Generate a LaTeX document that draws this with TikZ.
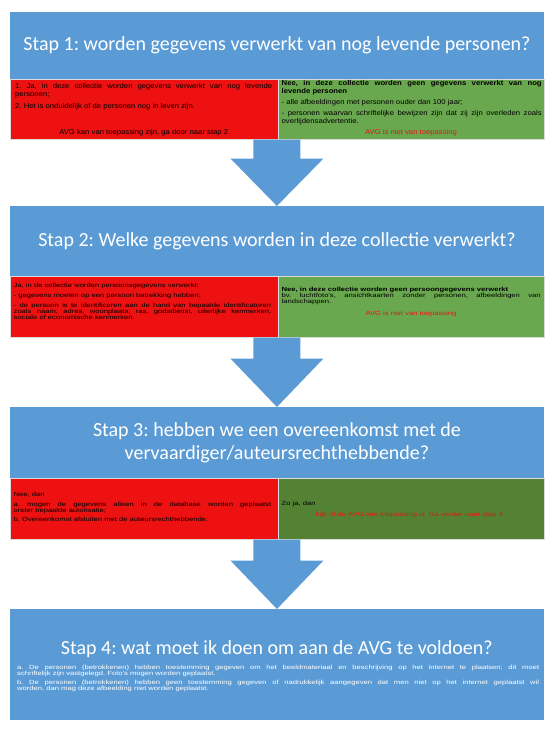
\documentclass[tikz,border=0pt]{standalone}
\usepackage{fontspec}
\setmainfont{Liberation Sans}
\newfontfamily\headfont{Carlito}
\newfontfamily\bodyA[FakeStretch=1.1]{Liberation Sans}
\newfontfamily\bodyB[FakeStretch=1.27]{Liberation Sans}
\usetikzlibrary{calc}
\definecolor{stepblue}{HTML}{5B9BD5}
\definecolor{boxred}{HTML}{EE1111}
\definecolor{boxgreen}{HTML}{6AA84F}
\definecolor{darkgreen}{HTML}{548235}
\definecolor{avgred}{HTML}{E3170F}
\definecolor{edgegray}{HTML}{DADADA}
\frenchspacing
\begin{document}
\begin{tikzpicture}[x=1pt,y=-1pt,
  stepbox/.style={rectangle, fill=stepblue, inner sep=0pt, anchor=north west,
    minimum width=534.5pt, text=white, font=\headfont\fontsize{20}{23}\selectfont, align=center},
  cellbox/.style={rectangle, draw=edgegray, line width=0.5pt, inner sep=0pt, anchor=north west, minimum height=60pt},
  redcell/.style={cellbox, fill=boxred, minimum width=268.5pt},
  greencell/.style={cellbox, fill=boxgreen, minimum width=266pt},
  darkcell/.style={cellbox, fill=darkgreen, minimum width=266pt},
  nohyph/.style={execute at begin node={\frenchspacing\hyphenpenalty=10000\exhyphenpenalty=10000}},
  textA/.style={inner sep=0pt, anchor=north west, align=justify, nohyph,
    font=\bodyA\fontsize{7}{7.4}\selectfont},
  textB/.style={inner sep=0pt, anchor=north west, align=justify, nohyph,
    font=\bodyB\fontsize{6}{5.8}\selectfont},
  verdictA/.style={inner sep=0pt, anchor=base, font=\bodyA\fontsize{7}{7.4}\selectfont},
  verdictB/.style={inner sep=0pt, anchor=base, font=\bodyB\fontsize{6}{5.8}\selectfont},
  arrowblue/.style={fill=stepblue}
]
\useasboundingbox (0,0) rectangle (555,747);

% Step 1
\node[stepbox, minimum height=67pt] (b1) at (9.5,12) {Stap 1: worden gegevens verwerkt van nog levende personen?};
\node[redcell] (r1) at (9.5,79) {};
\node[greencell] (g1) at (278,79) {};
\node[textA, text width=257pt] (t1) at (15,83.6) {1. Ja, in deze collectie worden gegevens verwerkt van nog levende\linebreak personen;\par\vspace{4.8pt}2. Het is onduidelijk of de personen nog in leven zijn.};
\node[verdictA] (v1) at (143.75,134) {AVG kan van toepassing zijn, ga door naar stap 2};
\node[textA, text width=260pt] (t2) at (281.5,80.5) {\bfseries Nee, in deze collectie worden geen gegevens verwerkt van nog\linebreak levende personen\par\vspace{4pt}\mdseries - alle afbeeldingen met personen ouder dan 100 jaar;\par\vspace{4pt}- personen waarvan schriftelijke bewijzen zijn dat zij zijn overleden zoals\linebreak overlijdensadvertentie.};
\node[verdictA, text=avgred] (v2) at (411,134.2) {AVG is niet van toepassing};

% Step 2
\node[stepbox, minimum height=70pt] (b2) at (9.5,206) {Stap 2: Welke gegevens worden in deze collectie verwerkt?};
\node[redcell, minimum height=61pt] (r2) at (9.5,276) {};
\node[greencell, minimum height=61pt] (g2) at (278,276) {};
\node[textB, text width=257.5pt] (t3) at (13.5,283.3) {Ja, in de collectie worden persoonsgegevens verwerkt:\par\vspace{3.5pt}- gegevens moeten op een persoon betrekking hebben;\par\vspace{4.5pt}- de persoon is te identificeren aan de hand van bepaalde identificatoren\linebreak zoals naam, adres, woonplaats, ras, godsdienst, uiterlijke kenmerken,\linebreak sociale of economische kenmerken.};
\node[textB, text width=259pt] (t4) at (281.5,286.6) {\bfseries Nee, in deze collectie worden geen persoongegevens verwerkt\par\vspace{0.8pt}\mdseries bv. luchtfoto's, ansichtkaarten zonder personen, afbeeldingen van\linebreak landschappen.};
\node[verdictB, text=avgred] (v3) at (411,315) {AVG is niet van toepassing};

% Step 3
\node[stepbox, minimum height=71pt] (b3) at (9.5,407) {Stap 3: hebben we een overeenkomst met de\\vervaardiger/auteursrechthebbende?};
\node[redcell, minimum height=61pt] (r3) at (9.5,478) {};
\node[darkcell, minimum height=61pt] (g3) at (278,478) {};
\node[textB, text width=257.5pt] (t5) at (13.5,491.6) {Nee, dan\par\vspace{4.5pt}a. mogen de gegevens alleen in de database worden geplaatst\linebreak onder bepaalde autorisatie;\par\vspace{3.2pt}b. Overeenkomst afsluiten met de auteursrechthebbende.};
\node[inner sep=0pt, anchor=base west, font=\bodyB\fontsize{6}{5.8}\selectfont] (t6) at (281.5,505.5) {Zo ja, dan};
\node[verdictB, text=avgred] (v4) at (409.5,516.3) {kijk of de AVG van toepassing is. Ga verder naar stap 4};

% Step 4
\node[stepbox, minimum height=111pt] (b4) at (9.5,609) {};
\node[inner sep=0pt, text=white, font=\headfont\fontsize{20}{23}\selectfont] (h4) at (276.75,649) {Stap 4: wat moet ik doen om aan de AVG te voldoen?};
\node[textB, text=white, text width=522pt, font=\bodyB\fontsize{6}{6.1}\selectfont] (t7) at (17,665) {a. De personen (betrokkenen) hebben toestemming gegeven om het beeldmateriaal en beschrijving op het internet te plaatsen; dit moet\linebreak schriftelijk zijn vastgelegd. Foto's mogen worden geplaatst.\par\vspace{3pt}b. De personen (betrokkenen) hebben geen toestemming gegeven of nadrukkelijk aangegeven dat men niet op het internet geplaatst wil\linebreak worden, dan mag deze afbeelding niet worden geplaatst.};

% Arrows
\fill[arrowblue] let \p1=(r1.south east), \p2=(b2.north) in
  (\x2-23.5pt,\y1) -- (\x2+23.5pt,\y1) -- (\x2+23.5pt,\y1-19pt) -- (\x2+46.5pt,\y1-19pt)
  -- (\p2) -- (\x2-46.5pt,\y1-19pt) -- (\x2-23.5pt,\y1-19pt) -- cycle;
\fill[arrowblue] let \p1=(r2.south east), \p2=(b3.north) in
  (\x2-23.5pt,\y1) -- (\x2+23.5pt,\y1) -- (\x2+23.5pt,\y1-21pt) -- (\x2+46.5pt,\y1-21pt)
  -- (\p2) -- (\x2-46.5pt,\y1-21pt) -- (\x2-23.5pt,\y1-21pt) -- cycle;
\fill[arrowblue] let \p1=(r3.south east), \p2=(b4.north) in
  (\x2-23.5pt,\y1) -- (\x2+23.5pt,\y1) -- (\x2+23.5pt,\y1-21pt) -- (\x2+46.5pt,\y1-21pt)
  -- (\p2) -- (\x2-46.5pt,\y1-21pt) -- (\x2-23.5pt,\y1-21pt) -- cycle;
\end{tikzpicture}
\end{document}
